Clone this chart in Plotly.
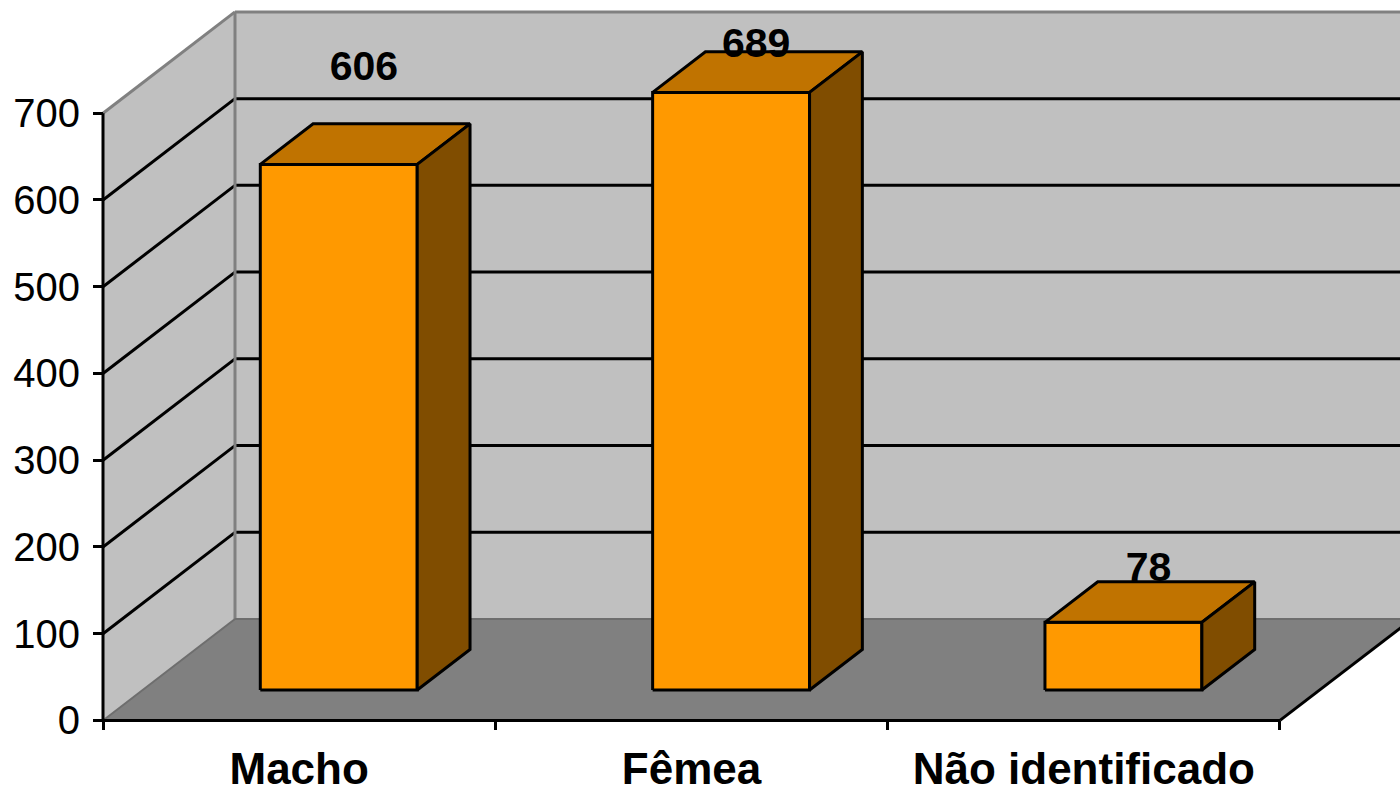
import plotly.graph_objects as go

# ---- data ----
categories = ["Macho", "Fêmea", "Não identificado"]
values = [606, 689, 78]
y_ticks = [0, 100, 200, 300, 400, 500, 600, 700]

# ---- style constants ----
W, H = 1400, 793
PX_X = 392.33          # pixels per category
PX_Y = 0.8729          # pixels per value unit
AX_LEFT, AX_BOTTOM = 103, 725   # pixel position of origin
DX = 132 / PX_X        # depth vector (category units)
DY = 102 / PX_Y        # depth vector (value units)
YMAX = 700
BAR_HALF = 0.2
F_FRONT, F_BACK = 0.3, 0.7
label_lift = [144, 88, 95]   # label vertical offset above value (value units)

FONT = "Liberation Sans, Arial, sans-serif"
C_WALL = "#C0C0C0"
C_FLOOR = "#808080"
C_EDGE = "#808080"
C_FRONT = "#FF9900"
C_TOP = "#C07300"
C_SIDE = "#804D00"

n = len(categories)
xr = [-AX_LEFT / PX_X, n + (W - (AX_LEFT + n * PX_X)) / PX_X]
yr = [-(H - AX_BOTTOM) / PX_Y, AX_BOTTOM / PX_Y]


def path(pts):
    return "M " + " L ".join(f"{x},{y}" for x, y in pts) + " Z"


shapes = []


def poly(pts, fill):
    shapes.append(dict(type="path", path=path(pts), xref="x", yref="y",
                       fillcolor=fill, line=dict(width=0), layer="below"))


def seg(p0, p1, color, width=3):
    shapes.append(dict(type="line", x0=p0[0], y0=p0[1], x1=p1[0], y1=p1[1],
                       xref="x", yref="y", line=dict(color=color, width=width),
                       layer="below"))


xend = n + DX + 0.5
# walls and floor
poly([(0, 0), (DX, DY), (DX, YMAX + DY), (0, YMAX)], C_WALL)
poly([(DX, DY), (xend, DY), (xend, YMAX + DY), (DX, YMAX + DY)], C_WALL)
poly([(0, 0), (n, 0), (n + DX, DY), (DX, DY)], C_FLOOR)

# gridlines
for v in y_ticks[1:-1]:
    seg((0, v), (DX, v + DY), "black")
    seg((DX, v + DY), (xend, v + DY), "black")

# wall edges
seg((0, YMAX), (DX, YMAX + DY), C_EDGE)
seg((DX, YMAX + DY), (xend, YMAX + DY), C_EDGE)
seg((DX, DY), (DX, YMAX + DY), C_EDGE)
seg((0, 0), (DX, DY), "#6E6E6E", 2)
seg((DX, DY), (xend, DY), "#6E6E6E", 2)
# floor right edge
seg((n, 0), (n + DX, DY), "black")
# axis lines
seg((0, 0), (0, YMAX), "black")
seg((0, 0), (n, 0), "black")

fig = go.Figure()

# bars as filled polygons
for i, v in enumerate(values):
    x0 = i + 0.5 - BAR_HALF
    x1 = i + 0.5 + BAR_HALF
    fx, fy = F_FRONT * DX, F_FRONT * DY
    bx, by = F_BACK * DX, F_BACK * DY
    faces = [
        ([(x0 + fx, fy), (x1 + fx, fy), (x1 + fx, v + fy), (x0 + fx, v + fy)], C_FRONT),
        ([(x0 + fx, v + fy), (x1 + fx, v + fy), (x1 + bx, v + by), (x0 + bx, v + by)], C_TOP),
        ([(x1 + fx, fy), (x1 + bx, by), (x1 + bx, v + by), (x1 + fx, v + fy)], C_SIDE),
    ]
    for pts, col in faces:
        xs = [p[0] for p in pts] + [pts[0][0]]
        ys = [p[1] for p in pts] + [pts[0][1]]
        fig.add_trace(go.Scatter(x=xs, y=ys, mode="lines", fill="toself",
                                 fillcolor=col, line=dict(color="black", width=3),
                                 hoverinfo="skip", showlegend=False))

# value labels
fig.add_trace(go.Scatter(
    x=[i + 0.5 + 0.49 * DX for i in range(n)],
    y=[v + l for v, l in zip(values, label_lift)],
    mode="text", text=[str(v) for v in values],
    textposition="middle center",
    textfont=dict(family=FONT, size=41, color="black", weight="bold"),
    hoverinfo="skip", showlegend=False))

# invisible trace on xaxis2 so the category axis renders
fig.add_trace(go.Scatter(x=[0.5], y=[0], xaxis="x2", mode="markers",
                         marker=dict(opacity=0), hoverinfo="skip", showlegend=False))

fig.update_layout(
    width=W, height=H,
    margin=dict(l=0, r=0, t=0, b=0),
    paper_bgcolor="white", plot_bgcolor="white",
    shapes=shapes,
    xaxis=dict(range=xr, anchor="free", position=(H - AX_BOTTOM) / H,
               tickvals=list(range(n + 1)), ticktext=[""] * (n + 1),
               ticks="outside", ticklen=9, tickwidth=3, tickcolor="black",
               showgrid=False, zeroline=False, showline=False, fixedrange=True),
    xaxis2=dict(range=xr, overlaying="x", anchor="free", position=(H - AX_BOTTOM) / H,
                side="bottom",
                tickvals=[i + 0.5 for i in range(n)], ticktext=categories,
                ticks="", tickfont=dict(family=FONT, size=44, color="black", weight="bold"),
                ticklabelstandoff=19,
                showgrid=False, zeroline=False, showline=False, fixedrange=True),
    yaxis=dict(range=yr, anchor="free", position=AX_LEFT / W,
               tickvals=y_ticks, ticks="outside", ticklen=10, tickwidth=3,
               tickcolor="black", tickfont=dict(family=FONT, size=40, color="black"),
               ticklabelstandoff=5,
               showgrid=False, zeroline=False, showline=False, fixedrange=True),
)

fig.write_html("out.html", config={"displayModeBar": False},
               post_script="document.body.style.margin='0';document.body.style.overflow='hidden';")
